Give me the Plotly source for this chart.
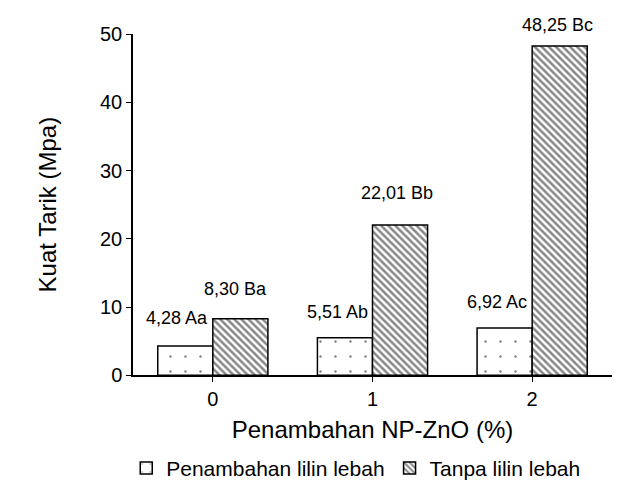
import plotly.graph_objects as go

categories = [0, 1, 2]
tick_labels = ["0", "1", "2"]
series_names = ["Penambahan lilin lebah", "Tanpa lilin lebah"]
with_wax = [4.28, 5.51, 6.92]
without_wax = [8.30, 22.01, 48.25]
with_wax_labels = ["4,28 Aa", "5,51 Ab", "6,92 Ac"]
without_wax_labels = ["8,30 Ba", "22,01 Bb", "48,25 Bc"]

FONT = "Liberation Sans, Arial, sans-serif"
BARGAP = 0.31
half = (1 - BARGAP) / 4  # centre offset of each bar in a group of two

fig = go.Figure()
fig.add_trace(go.Bar(
    x=categories, y=with_wax, name=series_names[0],
    marker=dict(color="white", line=dict(color="black", width=1.5),
                pattern=dict(shape=".", size=15, solidity=0.02,
                             fgcolor="black", bgcolor="white")),
))
fig.add_trace(go.Bar(
    x=categories, y=without_wax, name=series_names[1],
    marker=dict(color="white", line=dict(color="black", width=1.5),
                pattern=dict(shape="\\", size=5, solidity=0.5,
                             fgcolor="#111111", bgcolor="white")),
))

ys_with = [28, 26, 26]
ys_without = [30, 32, 21]
xs_without = [-5, -3, -2]
for i, c in enumerate(categories):
    fig.add_annotation(x=c, y=with_wax[i], text=with_wax_labels[i],
                       xanchor="right", yanchor="middle", xshift=-3,
                       yshift=ys_with[i], showarrow=False,
                       font=dict(family=FONT, size=18, color="black"))
    fig.add_annotation(x=c + half, y=without_wax[i], text=without_wax_labels[i],
                       xanchor="center", yanchor="middle", xshift=xs_without[i],
                       yshift=ys_without[i], showarrow=False,
                       font=dict(family=FONT, size=18, color="black"))

fig.update_layout(
    width=621, height=493,
    margin=dict(l=133, r=9, t=34, b=116),
    paper_bgcolor="white", plot_bgcolor="white",
    barmode="group", bargap=BARGAP, bargroupgap=0,
    font=dict(family=FONT, size=20, color="black"),
    showlegend=True,
    legend=dict(orientation="h", x=0.465, xanchor="center",
                yref="container", y=0.05, yanchor="middle",
                font=dict(size=21), itemwidth=30,
                traceorder="normal"),
    xaxis=dict(range=[-0.5, 2.5], tickvals=categories, ticktext=tick_labels,
               showline=True, linecolor="black", linewidth=1.5,
               ticks="outside", ticklen=5, tickcolor="black",
               showgrid=False, zeroline=False,
               title=dict(text="Penambahan NP-ZnO (%)", standoff=12)),
    yaxis=dict(range=[0, 50], dtick=10, showline=True, linecolor="black",
               linewidth=1.5, ticks="outside", ticklen=5, tickcolor="black",
               showgrid=False, zeroline=False,
               title=dict(text="Kuat Tarik (Mpa)", standoff=37)),
)

fig.write_html("out.html", config={"displayModeBar": False},
               post_script="document.body.style.margin='0';document.body.style.overflow='hidden';")
